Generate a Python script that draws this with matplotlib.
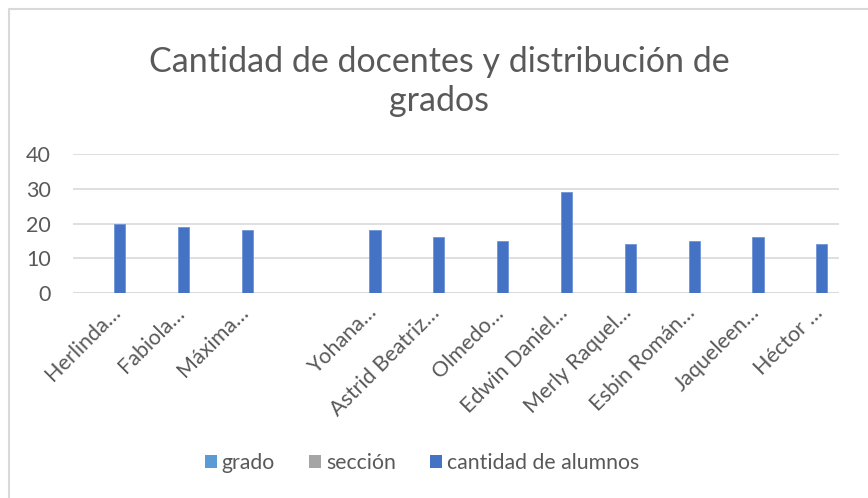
import matplotlib
matplotlib.use("Agg")
import matplotlib.pyplot as plt
import matplotlib.transforms as mtransforms
from matplotlib.lines import Line2D
from matplotlib.patches import Patch
import numpy as np

plt.rcParams["font.family"] = ["Lato", "DejaVu Sans"]

# ── data ──────────────────────────────────────────────────────────────────────
docentes = ["Herlinda…", "Fabiola…", "Máxima…", "", "Yohana…", "Astrid Beatriz…",
            "Olmedo…", "Edwin Daniel…", "Merly Raquel…", "Esbin Román…",
            "Jaqueleen…", "Héctor …"]
grado = [0] * 12
seccion = [0] * 12
alumnos = [20, 19, 18, 0, 18, 16, 15, 29, 14, 15, 16, 14]

series_names = ["grado", "sección", "cantidad de alumnos"]
series_colors = ["#5B9BD5", "#A5A5A5", "#4472C4"]

TEXT = "#595959"
GRID = "#D9D9D9"

fig = plt.figure(figsize=(8.68, 4.98), dpi=100)
ax = fig.add_axes([73 / 868, 1 - 293 / 498, 766 / 868, 139 / 498])

x = np.arange(len(docentes))
w = 0.175
off = 0.23
for k, vals in enumerate([grado, seccion, alumnos]):
    ax.bar(x + (k - 1) * off, vals, width=w, color=series_colors[k],
           edgecolor="#6F93D6" if k == 2 else series_colors[k],
           linewidth=0.6 if k == 2 else 0, zorder=3)

ax.set_xlim(-0.5, len(docentes) - 0.5)
ax.set_ylim(0, 40)
ax.set_yticks([0, 10, 20, 30, 40])
ax.yaxis.grid(True, color=GRID, linewidth=1.2, zorder=0)
for s in ax.spines.values():
    s.set_visible(False)
ax.axhline(0, color=GRID, linewidth=1.2, zorder=1)
ax.tick_params(axis="both", length=0, colors=TEXT, labelsize=15.5)
ax.tick_params(axis="y", pad=16)

ax.set_xticks(x)
labels = ax.set_xticklabels(docentes, rotation=45, ha="right", va="baseline",
                            rotation_mode="anchor", color=TEXT)
shift = mtransforms.ScaledTranslation(17 / 100, -16 / 100, fig.dpi_scale_trans)
for lab in labels:
    lab.set_transform(lab.get_transform() + shift)

fig.text(439 / 868, 1 - 62 / 498, "Cantidad de docentes y distribución de",
         ha="center", va="center", fontsize=24.5, color=TEXT)
fig.text(439 / 868, 1 - 101 / 498, "grados", ha="center", va="center",
         fontsize=24.5, color=TEXT)

handles = [Patch(facecolor=c, edgecolor="none") for c in series_colors]
fig.legend(handles, series_names, loc="center", bbox_to_anchor=(422 / 868, 1 - 463 / 498),
           ncol=3, frameon=False, fontsize=15.3, labelcolor=TEXT,
           handlelength=0.55, handleheight=0.55, handletextpad=0.25,
           columnspacing=1.6)

# chart border (only left and top edges are inside the picture)
fig.add_artist(Line2D([9 / 868, 9 / 868, 1], [0, 1 - 9 / 498, 1 - 9 / 498],
                      transform=fig.transFigure, color="#D9D9D9", linewidth=1.5))

fig.savefig("out.png", dpi=100, facecolor="white")
